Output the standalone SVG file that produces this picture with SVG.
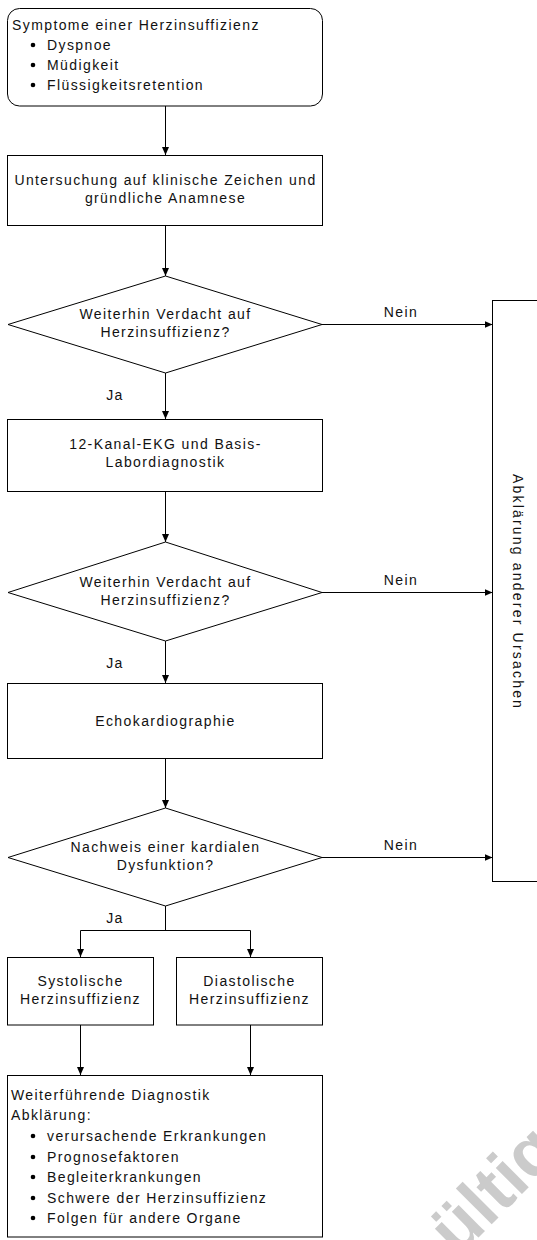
<svg xmlns="http://www.w3.org/2000/svg" width="537" height="1240" viewBox="0 0 537 1240">
<style>
.shape{fill:#fff;stroke:#000;stroke-width:1}
.t{font-family:"Liberation Sans",Arial,sans-serif;font-size:14px;letter-spacing:1.4px;fill:#111}
.c{text-anchor:middle}
.edge{fill:none;stroke:#000;stroke-width:1}
.wm{font-family:"Liberation Sans",Arial,sans-serif;font-size:70px;font-weight:bold;fill:#cbcbcb}
</style>
<defs>
<marker id="arr" markerUnits="userSpaceOnUse" markerWidth="8" markerHeight="7" refX="8" refY="3.5" orient="auto">
<path d="M0,0 L8,3.5 L0,7 Z" fill="#000"/>
</marker>
</defs>
<rect width="537" height="1240" fill="#fff"/>
<text class="wm" transform="translate(458,1258) rotate(-45)">ültig</text>

<g id="connectors">
<path class="edge" d="M165.5,106 V155" marker-end="url(#arr)"/>
<path class="edge" d="M165.5,226 V276" marker-end="url(#arr)"/>
<path class="edge" d="M165.5,373 V419" marker-end="url(#arr)"/>
<path class="edge" d="M165.5,492 V542" marker-end="url(#arr)"/>
<path class="edge" d="M165.5,641 V683" marker-end="url(#arr)"/>
<path class="edge" d="M165.5,759 V808" marker-end="url(#arr)"/>
<path class="edge" d="M322,324.5 H492.5" marker-end="url(#arr)"/>
<path class="edge" d="M322,592.5 H492.5" marker-end="url(#arr)"/>
<path class="edge" d="M322,857.5 H492.5" marker-end="url(#arr)"/>
<path class="edge" d="M165.5,906 V930.5 M80.5,930.5 H250.5"/>
<path class="edge" d="M80.5,930.5 V957" marker-end="url(#arr)"/>
<path class="edge" d="M250.5,930.5 V957" marker-end="url(#arr)"/>
<path class="edge" d="M80.5,1025 V1075" marker-end="url(#arr)"/>
<path class="edge" d="M250.5,1025 V1075" marker-end="url(#arr)"/>
<text class="t c" x="401" y="317">Nein</text>
<text class="t c" x="401" y="585">Nein</text>
<text class="t c" x="401" y="850">Nein</text>
<text class="t c" x="115" y="400">Ja</text>
<text class="t c" x="115" y="668">Ja</text>
<text class="t c" x="115" y="923">Ja</text>
</g>

<g id="symptome">
<rect class="shape" x="7.5" y="8.5" width="315" height="97.5" rx="12"/>
<text class="t" x="12" y="30">Symptome einer Herzinsuffizienz</text>
<circle cx="33" cy="45" r="2.3" fill="#000"/>
<text class="t" x="47" y="50">Dyspnoe</text>
<circle cx="33" cy="65" r="2.3" fill="#000"/>
<text class="t" x="47" y="70">Müdigkeit</text>
<circle cx="33" cy="85" r="2.3" fill="#000"/>
<text class="t" x="47" y="90">Flüssigkeitsretention</text>
</g>

<g id="untersuchung">
<rect class="shape" x="7.5" y="155.5" width="315" height="70"/>
<text class="t c" x="165.5" y="185">Untersuchung auf klinische Zeichen und</text>
<text class="t c" x="165.5" y="203">gründliche Anamnese</text>
</g>

<g id="frage1">
<polygon class="shape" points="165.5,276 322,324.5 165.5,373 8,324.5"/>
<text class="t c" x="165.5" y="318.5">Weiterhin Verdacht auf</text>
<text class="t c" x="165.5" y="337">Herzinsuffizienz?</text>
</g>

<g id="ekg">
<rect class="shape" x="7.5" y="419.5" width="315" height="72"/>
<text class="t c" x="165.5" y="449">12-Kanal-EKG und Basis-</text>
<text class="t c" x="165.5" y="467">Labordiagnostik</text>
</g>

<g id="frage2">
<polygon class="shape" points="165.5,542 322,592.5 165.5,641 8,592.5"/>
<text class="t c" x="165.5" y="586.5">Weiterhin Verdacht auf</text>
<text class="t c" x="165.5" y="605">Herzinsuffizienz?</text>
</g>

<g id="echo">
<rect class="shape" x="7.5" y="683.5" width="315" height="75"/>
<text class="t c" x="165.5" y="726">Echokardiographie</text>
</g>

<g id="frage3">
<polygon class="shape" points="165.5,808 322,857.5 165.5,906 8,857.5"/>
<text class="t c" x="165.5" y="851.5">Nachweis einer kardialen</text>
<text class="t c" x="165.5" y="870">Dysfunktion?</text>
</g>

<g id="systolisch">
<rect class="shape" x="7.5" y="957.5" width="146" height="67.5"/>
<text class="t c" x="80.5" y="985.5">Systolische</text>
<text class="t c" x="80.5" y="1003.5">Herzinsuffizienz</text>
</g>

<g id="diastolisch">
<rect class="shape" x="176.5" y="957.5" width="146" height="67.5"/>
<text class="t c" x="249.5" y="985.5">Diastolische</text>
<text class="t c" x="249.5" y="1003.5">Herzinsuffizienz</text>
</g>

<g id="weiterfuehrend">
<rect class="shape" x="7.5" y="1075.5" width="315" height="161.5"/>
<text class="t" x="11" y="1100">Weiterführende Diagnostik</text>
<text class="t" x="11" y="1120">Abklärung:</text>
<circle cx="33" cy="1136" r="2.3" fill="#000"/>
<text class="t" x="47" y="1141">verursachende Erkrankungen</text>
<circle cx="33" cy="1157" r="2.3" fill="#000"/>
<text class="t" x="47" y="1162">Prognosefaktoren</text>
<circle cx="33" cy="1177" r="2.3" fill="#000"/>
<text class="t" x="47" y="1182">Begleiterkrankungen</text>
<circle cx="33" cy="1198" r="2.3" fill="#000"/>
<text class="t" x="47" y="1203">Schwere der Herzinsuffizienz</text>
<circle cx="33" cy="1218" r="2.3" fill="#000"/>
<text class="t" x="47" y="1223">Folgen für andere Organe</text>
</g>

<g id="andere-ursachen">
<rect class="shape" x="492.5" y="300.5" width="60" height="581"/>
<text class="t c" style="letter-spacing:2.2px" transform="translate(513,592) rotate(90)" x="0" y="0">Abklärung anderer Ursachen</text>
</g>
</svg>
